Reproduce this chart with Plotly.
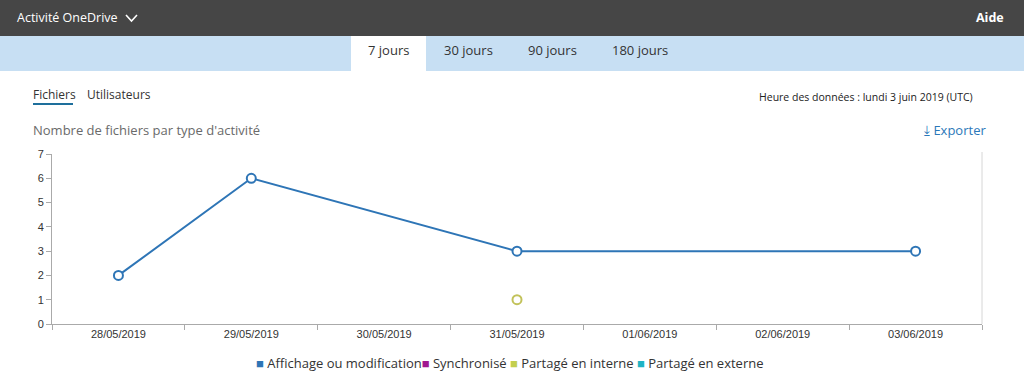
import plotly.graph_objects as go

dates = ["28/05/2019", "29/05/2019", "30/05/2019", "31/05/2019",
         "01/06/2019", "02/06/2019", "03/06/2019"]
affichage = [2, 6, None, 3, None, None, 3]
synchronise = [None, None, None, None, None, None, None]
partage_interne = [None, None, None, 1, None, None, None]
partage_externe = [None, None, None, None, None, None, None]

series_names = ["Affichage ou modification", "Synchronisé", "Partagé en interne", "Partagé en externe"]
series_values = [affichage, synchronise, partage_interne, partage_externe]
series_colors = ["#2e75b6", "#a0178f", "#c3cf4e", "#1fb3c4"]
marker_colors = ["#2e75b6", "#a0178f", "#c2c25a", "#1fb3c4"]

tabs = ["7 jours", "30 jours", "90 jours", "180 jours"]
y_ticks = [0, 1, 2, 3, 4, 5, 6, 7]

W, H = 1024, 387
fig = go.Figure()

for name, vals, col, mcol in zip(series_names, series_values, series_colors, marker_colors):
    fig.add_trace(go.Scatter(
        x=dates, y=vals, mode="lines+markers", name=name, connectgaps=True,
        line=dict(color=col, width=2),
        marker=dict(symbol="circle", size=9, color="white", line=dict(color=mcol, width=2)),
        showlegend=False, hoverinfo="x+y+name"))

def px(x):
    return x / W

def py(y):
    return 1 - y / H

shapes = [
    dict(type="rect", xref="paper", yref="paper", x0=0, x1=1, y0=py(36), y1=1,
         fillcolor="#464646", line_width=0, layer="below"),
    dict(type="rect", xref="paper", yref="paper", x0=0, x1=1, y0=py(71), y1=py(36),
         fillcolor="#c7dff3", line_width=0, layer="below"),
    dict(type="rect", xref="paper", yref="paper", x0=px(351), x1=px(426), y0=py(71), y1=py(36),
         fillcolor="white", line_width=0, layer="below"),
    dict(type="line", xref="paper", yref="paper", x0=px(33), x1=px(73), y0=py(104), y1=py(104),
         line=dict(color="#1e6f9c", width=2)),
    dict(type="line", xref="paper", yref="paper", x0=px(982), x1=px(982), y0=py(324), y1=py(152),
         line=dict(color="#d6d6d6", width=1)),
    dict(type="path", xref="paper", yref="paper",
         path=f"M {px(126)} {py(15)} L {px(131.5)} {py(21)} L {px(137)} {py(15)}",
         line=dict(color="white", width=1.6)),
]

ann = []
def text(x, y, s, size, color, anchor="left", family="Open Sans, Noto Sans, sans-serif"):
    ann.append(dict(xref="paper", yref="paper", x=px(x), y=py(y), text=s, showarrow=False,
                    xanchor=anchor, yanchor="middle",
                    font=dict(size=size, color=color, family=family)))

text(15, 18, "Activité OneDrive", 12.5, "white")
text(1006, 18, "<b>Aide</b>", 12.5, "white", "right")
for t, cx in zip(tabs, [388, 468, 552, 640]):
    text(cx, 50, t, 13, "#333333", "center")
text(31, 94, "Fichiers", 12, "#333333")
text(85, 94, "Utilisateurs", 12, "#333333")
text(975, 97, "Heure des données : lundi 3 juin 2019 (UTC)", 10.5, "#222222", "right")
text(31, 130, "Nombre de fichiers par type d'activité", 13, "#6a6a6a")
text(988, 130, "⤓ Exporter", 13, "#2b78b9", "right")

legend_parts = [f"<span style='color:{col}'>■</span> {name}"
                for name, col in zip(series_names, series_colors)]
legend_html = legend_parts[0] + legend_parts[1] + " " + legend_parts[2] + " " + legend_parts[3]
text(510, 363, legend_html, 13, "#333333", "center")

fig.update_layout(
    width=W, height=H, margin=dict(l=0, r=0, t=0, b=0, pad=0, autoexpand=False),
    paper_bgcolor="white", plot_bgcolor="white",
    shapes=shapes, annotations=ann,
    showlegend=False,
    xaxis=dict(domain=[px(52), px(982)], type="category", categoryorder="array",
               categoryarray=dates, tickson="boundaries", ticks="outside", ticklen=5,
               tickcolor="#aaaaaa", showline=True, linecolor="#aaaaaa", showgrid=False,
               tickfont=dict(size=11, color="#333333", family="Liberation Sans, Arial"),
               range=[-0.5, 6.5], fixedrange=True, automargin=False),
    yaxis=dict(domain=[py(324), py(154)], range=[0, 7], tickvals=y_ticks,
               ticks="outside", ticklen=5, tickcolor="#aaaaaa", showline=True,
               linecolor="#aaaaaa", showgrid=False, zeroline=False,
               tickfont=dict(size=11, color="#333333", family="Liberation Sans, Arial"),
               fixedrange=True, automargin=False),
)

fig.write_html("out.html", config={"displayModeBar": False},
               post_script="document.body.style.margin='0';document.body.style.padding='0';document.body.style.overflow='hidden';")
